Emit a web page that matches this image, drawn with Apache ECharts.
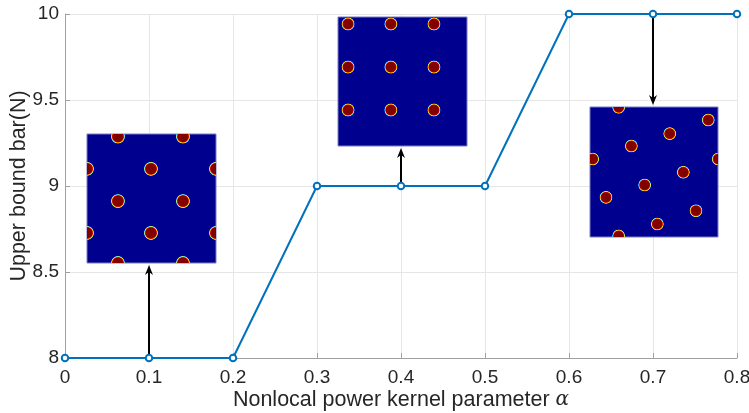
<!DOCTYPE html>
<html>
<head>
<meta charset="utf-8">
<script src="https://cdn.jsdelivr.net/npm/echarts@6/dist/echarts.min.js"></script>
<style>
  html, body { margin: 0; padding: 0; background: #fff; }
  #chart { width: 749px; height: 413px; }
</style>
</head>
<body>
<div id="chart"></div>
<script>
// Kernel parameter values and the resulting upper bound on the bar count
const alpha = [0, 0.1, 0.2, 0.3, 0.4, 0.5, 0.6, 0.7, 0.8];
const upperBound = [8, 8, 8, 9, 9, 9, 10, 10, 10];

// Points that each inset pattern illustrates
const insetPoints = [[0.1, 8], [0.4, 9], [0.7, 10]];

// Bar centres inside each pattern, as fractions of the inset width / height
const patternHex = [
  [0.24, 0.02], [0.744, 0.02],
  [0, 0.27], [0.496, 0.27], [1, 0.27],
  [0.24, 0.52], [0.744, 0.52],
  [0, 0.767], [0.496, 0.767], [1, 0.767],
  [0.24, 1.0], [0.744, 1.0]
];
const patternSquare = [
  [0.078, 0.054], [0.41, 0.054], [0.744, 0.054],
  [0.078, 0.388], [0.41, 0.388], [0.744, 0.388],
  [0.078, 0.721], [0.41, 0.721], [0.744, 0.721]
];
const patternSkew = [
  [0.224, 0.002], [0.924, 0.100], [0.623, 0.205], [0.323, 0.300],
  [0.021, 0.400], [1.002, 0.400], [0.729, 0.502], [0.427, 0.600],
  [0.125, 0.695], [0.828, 0.798], [0.526, 0.900], [0.224, 0.992]
];

// Inset frames in data coordinates: [xLeft, xRight, yTop, yBottom]
const insetFrames = [
  [0.0262, 0.1798, 9.302, 8.552],
  [0.325, 0.4786, 9.983, 9.233],
  [0.625, 0.7774, 9.459, 8.703]
];
const insetPatterns = [patternHex, patternSquare, patternSkew];
const barRadius = [7.2, 6.7, 6.6];

const TEXT = '#262626';
const chart = echarts.init(document.getElementById('chart'), null, { renderer: 'canvas' });

const barFill = {
  type: 'radial', x: 0.5, y: 0.5, r: 0.5,
  colorStops: [
    { offset: 0, color: '#7e0000' },
    { offset: 0.70, color: '#850000' },
    { offset: 0.78, color: '#c81a00' },
    { offset: 0.84, color: '#ff9a00' },
    { offset: 0.89, color: '#e8e040' },
    { offset: 0.94, color: '#40c8ff' },
    { offset: 1, color: '#0020c0' }
  ]
};

function arrowHead(tip, dir) {
  // dir = -1 points up, +1 points down
  const len = 10, half = 4, notch = 7;
  return [
    [tip[0], tip[1]],
    [tip[0] - half, tip[1] - dir * len],
    [tip[0], tip[1] - dir * notch],
    [tip[0] + half, tip[1] - dir * len]
  ];
}

function renderInset(params, api) {
  const i = params.dataIndex;
  const f = insetFrames[i];
  const p0 = api.coord([f[0], f[2]]);
  const p1 = api.coord([f[1], f[3]]);
  const x = Math.round(p0[0]), y = Math.round(p0[1]);
  const w = Math.round(p1[0] - p0[0]), h = Math.round(p1[1] - p0[1]);

  const bars = insetPatterns[i].map(c => ({
    type: 'circle',
    shape: { cx: x + c[0] * w, cy: y + c[1] * h, r: barRadius[i] },
    style: { fill: barFill }
  }));

  const pt = api.coord([api.value(0), api.value(1)]);
  const down = pt[1] < y;
  const tipY = down ? y - 2 : y + h + 2;
  const dir = down ? 1 : -1;
  const headBase = tipY - dir * 7;

  return {
    type: 'group',
    children: [
      { type: 'rect', shape: { x: x, y: y, width: w, height: h },
        style: { fill: '#00008e', stroke: '#7c7cc4', lineWidth: 1 } },
      { type: 'group', children: bars,
        clipPath: { type: 'rect', shape: { x: x, y: y, width: w, height: h } } },
      { type: 'line', shape: { x1: pt[0], y1: pt[1], x2: pt[0], y2: headBase },
        style: { stroke: '#000', lineWidth: 2 } },
      { type: 'polygon', shape: { points: arrowHead([pt[0], tipY], dir) },
        style: { fill: '#000' } }
    ]
  };
}

chart.setOption({
  animation: false,
  backgroundColor: '#ffffff',
  grid: {
    left: 65, right: 12, top: 14, bottom: 55,
    containLabel: false, outerBoundsMode: 'none'
  },
  xAxis: {
    type: 'value', min: 0, max: 0.8, interval: 0.1,
    name: '{t|Nonlocal power kernel parameter }{a|α}',
    nameLocation: 'middle', nameGap: 31, nameMoveOverlap: false,
    nameTextStyle: {
      rich: {
        t: { fontFamily: 'Liberation Sans', fontSize: 21.5, color: TEXT },
        a: { fontFamily: 'DejaVu Serif', fontStyle: 'italic', fontSize: 20, color: TEXT }
      }
    },
    axisLine: { show: true, lineStyle: { color: '#a0a0a0', width: 1 } },
    axisTick: { show: true, inside: true, length: 5, lineStyle: { color: '#a0a0a0' } },
    axisLabel: { fontFamily: 'Liberation Sans', fontSize: 19, color: TEXT, margin: 10 },
    splitLine: { show: true, lineStyle: { color: '#e6e6e6', width: 1 } }
  },
  yAxis: {
    type: 'value', min: 8, max: 10, interval: 0.5,
    name: 'Upper bound bar(N)',
    nameLocation: 'middle', nameGap: 35, nameRotate: 90, nameMoveOverlap: false,
    nameTextStyle: { fontFamily: 'Liberation Sans', fontSize: 21.5, color: TEXT },
    axisLine: { show: true, lineStyle: { color: '#a0a0a0', width: 1 } },
    axisTick: { show: true, inside: true, length: 5, lineStyle: { color: '#a0a0a0' } },
    axisLabel: { fontFamily: 'Liberation Sans', fontSize: 19, color: TEXT, margin: 6 },
    splitLine: { show: true, lineStyle: { color: '#e6e6e6', width: 1 } }
  },
  series: [
    {
      type: 'custom',
      z: 1,
      renderItem: renderInset,
      data: insetPoints,
      clip: false
    },
    {
      type: 'line',
      z: 3,
      data: alpha.map((a, i) => [a, upperBound[i]]),
      symbol: 'emptyCircle',
      symbolSize: 6.5,
      lineStyle: { color: '#0072bd', width: 2 },
      itemStyle: { color: '#0072bd', borderWidth: 1.5 },
      clip: false
    }
  ]
});
</script>
</body>
</html>
